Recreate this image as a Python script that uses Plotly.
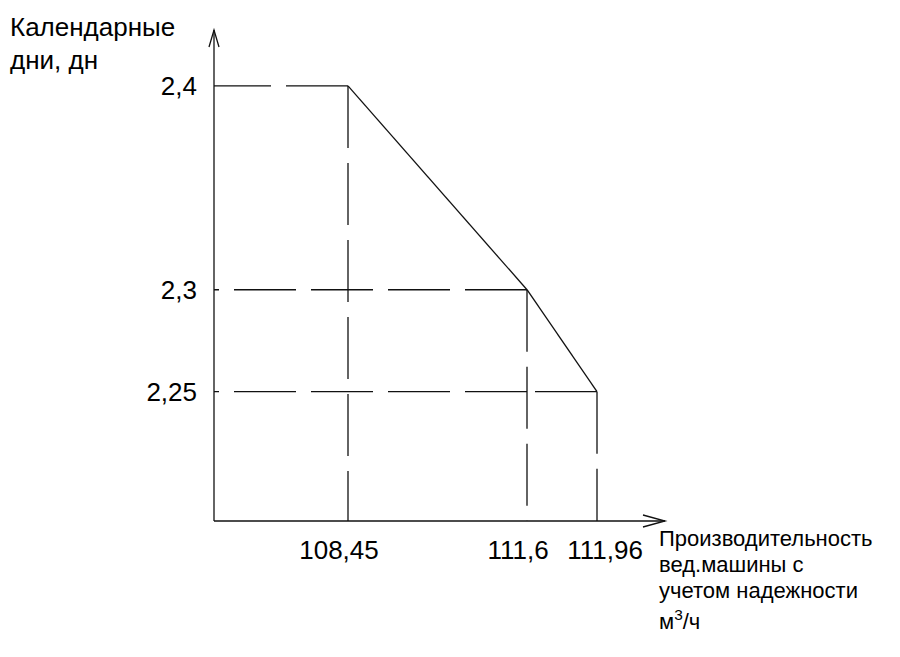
import plotly.graph_objects as go

# ---- data ----
productivity = [108.45, 111.6, 111.96]      # m3/h
calendar_days = [2.4, 2.3, 2.25]            # days
x_title_lines = ["Производительность", "вед.машины с", "учетом надежности", "м<sup>3</sup>/ч"]
y_title_lines = ["Календарные", "дни, дн"]

def fmt(v):
    return f"{v:g}".replace(".", ",")

x_labels = [fmt(v) for v in productivity]
y_labels = [fmt(v) for v in calendar_days]

# ---- layout geometry (pixels, page coordinates; page body has 8px margin) ----
OFF = 8
W, H = 900, 657
PL, PR, PT, PB = 214, 665, 30, 521.5
PW, PH = PR - PL, PB - PT

# broken (schematic) x scale: two linear pieces
k1 = (527 - 348) / (productivity[1] - productivity[0])
k2 = (597 - 527) / (productivity[2] - productivity[1])
x1_range = [productivity[0] - (348 - PL) / k1, productivity[1] + 6 / k1]
x1_dom = [0, (527 + 6 - PL) / PW]
x2_range = [productivity[1] - 10 / k2, productivity[2] + (PR - 597) / k2]
x2_dom = [(527 - 10 - PL) / PW, 1]

ky = (290 - 86) / (calendar_days[0] - calendar_days[1])
y_range = [calendar_days[0] - (PB - 86) / ky, calendar_days[0] + (86 - PT) / ky]

def px(xp):
    return (xp - PL) / PW

def py(yp):
    return (PB - yp) / PH

fig = go.Figure()
dash = "62px,15px"
lc = "#111111"
lw = 1.3

def seg(xs, ys, axis="x", d=None):
    fig.add_trace(go.Scatter(x=xs, y=ys, xaxis=axis, yaxis="y", mode="lines",
                             line=dict(color=lc, width=lw, dash=d),
                             hoverinfo="skip", showlegend=False))

xmin = x1_range[0]
ymin = y_range[0]
# horizontal guides (from point toward y axis)
seg([productivity[0], xmin], [calendar_days[0]] * 2, "x", dash)
seg([productivity[1], xmin], [calendar_days[1]] * 2, "x", dash)
seg([productivity[2], productivity[1]], [calendar_days[2]] * 2, "x2", dash)
seg([productivity[1], xmin], [calendar_days[2]] * 2, "x", dash)
# vertical guides
seg([productivity[0]] * 2, [calendar_days[0], ymin], "x", dash)
seg([productivity[1]] * 2, [calendar_days[1], ymin], "x", dash)
seg([productivity[2]] * 2, [calendar_days[2], ymin], "x2", dash)
# main curve
seg(productivity[:2], calendar_days[:2], "x")
seg(productivity[1:], calendar_days[1:], "x2")

FONT = "Arial, Liberation Sans, sans-serif"
tickfont = dict(family=FONT, size=26, color="black")
common = dict(showgrid=False, zeroline=False, showline=False, ticks="",
              tickfont=tickfont, tickmode="array")

fig.update_layout(
    width=W, height=H,
    margin=dict(l=PL - OFF, r=W - PR + OFF, t=PT - OFF, b=H - PB + OFF, pad=0),
    plot_bgcolor="rgba(0,0,0,0)", paper_bgcolor="white",
    showlegend=False,
    xaxis=dict(common, domain=x1_dom, range=x1_range, anchor="y",
               tickvals=productivity[:2], ticktext=x_labels[:2],
               ticklabelstandoff=11, ticklabelshift=-9),
    xaxis2=dict(common, domain=x2_dom, range=x2_range, anchor="y",
                tickvals=productivity[2:], ticktext=x_labels[2:],
                ticklabelstandoff=11, ticklabelshift=8),
    yaxis=dict(common, domain=[0, 1], range=y_range, anchor="x",
               tickvals=calendar_days, ticktext=y_labels,
               ticklabelstandoff=16),
)

axis_line = dict(color=lc, width=lw)
fig.add_shape(type="line", xref="paper", yref="paper", x0=0, y0=0, x1=1, y1=0, line=axis_line)
fig.add_shape(type="line", xref="paper", yref="paper", x0=0, y0=0, x1=0, y1=1, line=axis_line)
# arrow heads
fig.add_shape(type="path", xref="paper", yref="paper", xsizemode="pixel", ysizemode="pixel",
              xanchor=0, yanchor=1, path="M-5,-17 L0,0 L5,-17", line=axis_line)
fig.add_shape(type="path", xref="paper", yref="paper", xsizemode="pixel", ysizemode="pixel",
              xanchor=1, yanchor=0, path="M-22,6 L0,0 L-22,-6", line=axis_line)

for i, t in enumerate(y_title_lines):
    fig.add_annotation(text=t, xref="paper", yref="paper", x=px(8), y=py(27 + 33 * i),
                       xanchor="left", yanchor="middle", align="left", showarrow=False,
                       font=dict(family=FONT, size=26, color="black"))
x_title_y = [539, 565, 591, 621]
for t, yy in zip(x_title_lines, x_title_y):
    fig.add_annotation(text=t, xref="paper", yref="paper", x=px(657), y=py(yy),
                       xanchor="left", yanchor="middle", align="left", showarrow=False,
                       font=dict(family=FONT, size=22, color="black"))

fig.write_html("out.html")
